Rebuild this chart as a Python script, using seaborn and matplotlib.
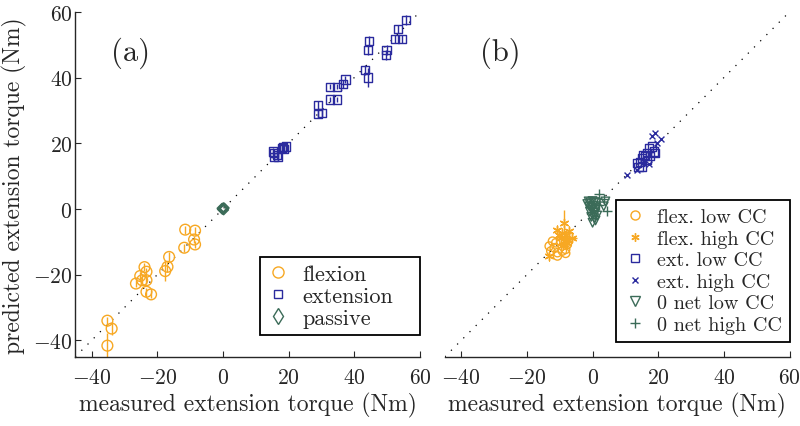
import numpy as np
import pandas as pd
import seaborn as sns
import matplotlib.pyplot as plt
from matplotlib.lines import Line2D

sns.set_style('ticks')
plt.rcParams['font.family'] = 'serif'
plt.rcParams['font.serif'] = ['cmr10']
plt.rcParams['mathtext.fontset'] = 'cm'
plt.rcParams['axes.formatter.use_mathtext'] = True
plt.rcParams['axes.unicode_minus'] = True

ORANGE = '#F7A823'
BLUE = '#2A2A9E'
GREEN = '#3B6B58'

# ---- panel (a) ----
flex_a_x = [-11.5, -8.5, -8.8, -8.5, -11.8, -16.4, -16.9, -17.6, -23.9, -23.3,
            -25.2, -24.6, -23.3, -26.5, -23.3, -21.9, -35.2, -33.9, -35.2]
flex_a_y = [-6.3, -6.6, -9.3, -10.8, -11.8, -14.6, -17.6, -18.9, -17.7, -19.1,
            -20.4, -21.7, -21.7, -22.7, -25.2, -26.0, -34.0, -36.4, -41.6]
flex_a_err = [1.2, 1.2, 1.2, 1.2, 1.2, 1.5, 1.5, 3.0, 1.2, 1.2,
              1.2, 1.2, 1.2, 1.2, 1.2, 1.2, 1.2, 2.0, 4.0]

ext_a_x = [15.2, 15.5, 16.5, 15.6, 16.8, 18.1, 19.1, 18.7, 18.4, 28.9, 28.9, 30.1,
           32.7, 34.7, 32.7, 34.7, 36.5, 37.3, 43.2, 44.2, 44.2, 44.5, 49.6, 49.8,
           52.3, 54.6, 53.3, 55.7]
ext_a_y = [17.5, 15.7, 16.5, 17.0, 15.8, 18.5, 19.0, 18.3, 18.9, 31.6, 28.9, 29.3,
           37.2, 37.2, 33.3, 33.3, 38.0, 39.4, 42.4, 40.0, 48.3, 51.1, 46.8, 48.3,
           51.6, 51.6, 54.8, 57.4]
ext_a_err = [1.2, 1.2, 1.2, 1.2, 1.2, 1.2, 1.2, 1.2, 1.2, 1.2, 1.2, 1.2,
             0.8, 0.8, 0.8, 0.8, 1.2, 1.2, 1.5, 3.0, 1.5, 1.5, 1.5, 1.5,
             1.2, 1.2, 1.2, 1.5]

pas_a_x = [-0.3, 0.2, 0.0, 0.4, -0.2, 0.1]
pas_a_y = [0.2, -0.3, 0.0, 0.3, -0.1, 0.4]

# ---- panel (b) ----
flexlo_b_x = [-13.2, -11.7, -12.7, -10.7, -9.2, -8.2, -11.2, -9.7, -8.2, -10.7, -7.7, -12.2]
flexlo_b_y = [-11.3, -11.8, -12.8, -13.3, -12.8, -12.3, -10.3, -9.8, -13.5, -14.3, -10.8, -9.8]

flexhi_b_x = [-13.2, -10.7, -8.7, -6.2, -9.2, -8.2, -7.7, -9.7, -7.2, -8.4, -10.2, -8.9, -7.9]
flexhi_b_y = [-14.3, -6.3, -4.2, -8.8, -7.3, -7.8, -9.3, -8.8, -6.8, -9.8, -7.8, -11.0, -10.5]
flexhi_b_err = [0.5, 1.0, 3.8, 1.0, 1.0, 1.0, 1.0, 1.0, 1.0, 1.0, 1.0, 1.0, 1.0]
flexhi_b_xerr = [0.0, 0.0, 0.0, 1.5, 0.0, 0.0, 0.0, 0.0, 0.0, 0.0, 0.0, 0.0, 0.0]

extlo_b_x = [17.1, 18.1, 18.6, 16.6, 15.5, 15.0, 16.1, 14.5, 14.0, 15.0, 13.5, 17.6, 19.1, 16.6]
extlo_b_y = [18.5, 19.0, 17.5, 17.0, 16.5, 15.5, 16.0, 14.4, 12.9, 12.9, 13.9, 16.0, 17.0, 15.0]

exthi_b_x = [19.1, 18.1, 20.9, 10.5, 17.1, 15.5, 19.6, 13.5]
exthi_b_y = [23.2, 22.2, 21.2, 10.4, 13.7, 14.1, 20.0, 11.9]

zlo_b_x = [-1.2, -0.6, 0.0, 0.6, 1.2, -1.0, -0.3, 0.4, 1.0, -0.8, 0.2, 0.8,
           -0.4, 0.5, 1.4, 0.0, 3.9, 3.4, -1.6, 0.9, -0.2, 0.6]
zlo_b_y = [2.3, 2.0, 2.4, 2.1, 1.8, 0.8, 0.5, 1.0, 0.2, -0.8, -1.2, -1.0,
           -2.4, -2.8, -2.0, -4.2, 2.3, 0.8, 1.5, -3.5, -0.3, -1.8]

zhi_b_x = [2.1, 4.5, 1.9, 3.6]
zhi_b_y = [4.5, -0.7, 1.3, 3.0]

LIM = (-45, 60)
TICKS = [-40, -20, 0, 20, 40, 60]

fig = plt.figure(figsize=(8, 4.27), dpi=100)
ax1 = fig.add_axes([0.094, 0.162, 0.431, 0.808])
ax2 = fig.add_axes([0.556, 0.162, 0.431, 0.808])


def style_axes(ax, show_y):
    ax.set_xlim(LIM)
    ax.set_ylim(LIM)
    ax.set_xticks(TICKS)
    ax.set_yticks(TICKS)
    sns.despine(ax=ax, left=not show_y)
    ax.spines['bottom'].set_linewidth(1.0)
    ax.spines['left'].set_linewidth(1.0)
    ax.tick_params(direction='in', length=4, width=0.8, labelsize=15.5)
    ax.tick_params(axis='x', pad=8)
    ax.tick_params(axis='y', pad=2)
    if not show_y:
        ax.tick_params(axis='y', left=False, labelleft=False)
    ax.plot(LIM, LIM, linestyle=(0, (1, 6)), color='black', lw=0.9, zorder=0)
    ax.set_xlabel('measured extension torque (Nm)', fontsize=17, labelpad=3)


def hollow(ax, x, y, marker, color, s, lw=1.0):
    sns.scatterplot(x=x, y=y, marker=marker, facecolor='none', edgecolor=color,
                    s=s, linewidth=lw, ax=ax, zorder=3)


def lines(ax, x, y, marker, color, s, lw=1.0):
    sns.scatterplot(x=x, y=y, marker=marker, color=color, s=s, linewidth=lw,
                    ax=ax, zorder=3)


# panel (a)
style_axes(ax1, True)
ax1.set_ylabel('predicted extension torque (Nm)', fontsize=17, labelpad=4)
ax1.errorbar(flex_a_x, flex_a_y, yerr=flex_a_err, fmt='none', ecolor=ORANGE, elinewidth=1)
ax1.errorbar(ext_a_x, ext_a_y, yerr=ext_a_err, fmt='none', ecolor=BLUE, elinewidth=1)
hollow(ax1, flex_a_x, flex_a_y, 'o', ORANGE, 60)
hollow(ax1, ext_a_x, ext_a_y, 's', BLUE, 34)
hollow(ax1, pas_a_x, pas_a_y, 'D', GREEN, 24)
ax1.text(-28, 47.8, '(a)', fontsize=22, ha='center', va='center')

h1 = [Line2D([], [], ls='none', marker='o', mfc='none', mec=ORANGE, ms=8),
      Line2D([], [], ls='none', marker='s', mfc='none', mec=BLUE, ms=6),
      Line2D([], [], ls='none', marker='d', mfc='none', mec=GREEN, ms=8)]
leg1 = ax1.legend(h1, ['flexion', 'extension', 'passive'], loc='lower left',
                  bbox_to_anchor=(0.536, 0.064, 0.464, 0.2), mode='expand',
                  borderaxespad=0, fontsize=16,
                  frameon=True, fancybox=False, framealpha=1, edgecolor='black',
                  handlelength=1.0, handletextpad=0.6, labelspacing=0.12,
                  borderpad=0.3)
leg1.get_frame().set_linewidth(1.3)

# panel (b)
style_axes(ax2, False)
ax2.errorbar(flexhi_b_x, flexhi_b_y, yerr=flexhi_b_err, xerr=flexhi_b_xerr,
             fmt='none', ecolor=ORANGE, elinewidth=1)
hollow(ax2, flexlo_b_x, flexlo_b_y, 'o', ORANGE, 36)
lines(ax2, flexhi_b_x, flexhi_b_y, (6, 2, 0), ORANGE, 40)
hollow(ax2, extlo_b_x, extlo_b_y, 's', BLUE, 34)
lines(ax2, exthi_b_x, exthi_b_y, 'x', BLUE, 18)
hollow(ax2, zlo_b_x, zlo_b_y, 'v', GREEN, 38)
lines(ax2, zhi_b_x, zhi_b_y, '+', GREEN, 45)
ax2.text(-28, 47.8, '(b)', fontsize=22, ha='center', va='center')

h2 = [Line2D([], [], ls='none', marker='o', mfc='none', mec=ORANGE, ms=6.5),
      Line2D([], [], ls='none', marker=(6, 2, 0), color=ORANGE, ms=6),
      Line2D([], [], ls='none', marker='s', mfc='none', mec=BLUE, ms=5.5),
      Line2D([], [], ls='none', marker='x', color=BLUE, ms=4.5),
      Line2D([], [], ls='none', marker='v', mfc='none', mec=GREEN, ms=7),
      Line2D([], [], ls='none', marker='+', color=GREEN, ms=7)]
leg2 = ax2.legend(h2, ['flex. low CC', 'flex. high CC', 'ext. low CC',
                       'ext. high CC', '0 net low CC', '0 net high CC'],
                  loc='lower right', bbox_to_anchor=(1.0, 0.043), borderaxespad=0,
                  fontsize=14.5, frameon=True, fancybox=False, framealpha=1,
                  edgecolor='black', handlelength=1.0, handletextpad=0.6,
                  labelspacing=0.17, borderpad=0.4)
leg2.get_frame().set_linewidth(1.3)

fig.savefig('out.png', dpi=100)
